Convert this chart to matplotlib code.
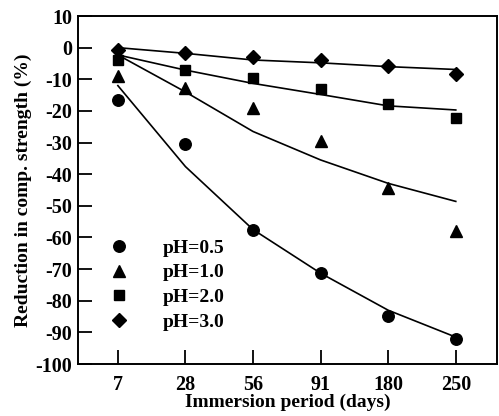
import matplotlib
matplotlib.use("Agg")
import matplotlib.pyplot as plt
from matplotlib.lines import Line2D

days = ["7", "28", "56", "91", "180", "250"]
ph_labels = ["pH=0.5", "pH=1.0", "pH=2.0", "pH=3.0"]
markers = ["o", "^", "s", "D"]

ph05 = [-16.5, -30.5, -57.5, -71.3, -84.8, -92.2]
ph10 = [-9.0, -12.8, -19.2, -29.4, -44.3, -58.0]
ph20 = [-4.0, -7.0, -9.6, -13.1, -17.8, -22.2]
ph30 = [-0.7, -1.6, -3.1, -4.0, -5.9, -8.2]

fit05 = [-12.0, -37.6, -57.5, -71.3, -83.0, -91.5]
fit10 = [-2.3, -14.0, -26.5, -35.5, -42.9, -48.6]
fit20 = [-2.3, -7.1, -11.3, -14.8, -18.4, -19.7]
fit30 = [0.0, -1.8, -3.9, -4.8, -6.0, -6.9]

yticks = list(range(-100, 11, 10))

plt.rcParams['font.family'] = ['Liberation Serif', 'DejaVu Serif']
plt.rcParams['font.weight'] = 'bold'

fig = plt.figure(figsize=(4.99, 4.16), dpi=100)
ax = fig.add_axes([0.1563, 0.125, 0.8397, 0.8365])

x = list(range(len(days)))
series = [ph05, ph10, ph20, ph30]
fits = [fit05, fit10, fit20, fit30]
msizes = [8.3, 8, 7.8, 6.8]

for vals, fv, m, ms in zip(series, fits, markers, msizes):
    ax.plot(x, fv, '-', color='black', lw=1.2, zorder=2)
    ax.plot(x, vals, linestyle='none', marker=m, color='black', ms=ms, zorder=3)

ax.set_xlim(-0.59, 5.61)
ax.set_ylim(-100, 10)
ax.set_xticks(x)
ax.set_xticklabels(days)
ax.set_yticks(yticks)
ax.set_yticklabels([str(v) for v in yticks])

ax.tick_params(axis='both', direction='in', length=10, width=1.3, labelsize=14.5)
ax.tick_params(axis='x', pad=8)
ax.tick_params(axis='y', pad=4)
for sp in ax.spines.values():
    sp.set_linewidth(1.4)

ax.set_xlabel("Immersion period (days)", fontsize=14, fontweight='bold', labelpad=-1)
ax.set_ylabel("Reduction in comp. strength (%)", fontsize=14, fontweight='bold', labelpad=3)

handles = [Line2D([], [], linestyle='none', marker=m, color='black', ms=ms)
           for m, ms in zip(markers, msizes)]
ax.legend(handles, ph_labels, loc='upper left', bbox_to_anchor=(0.0745, 0.3585),
          frameon=False, borderpad=0, borderaxespad=0, handlelength=1.0,
          handletextpad=1.75, labelspacing=0.36, prop={'size': 14, 'weight': 'bold'})

fig.savefig("out.png", dpi=100)
